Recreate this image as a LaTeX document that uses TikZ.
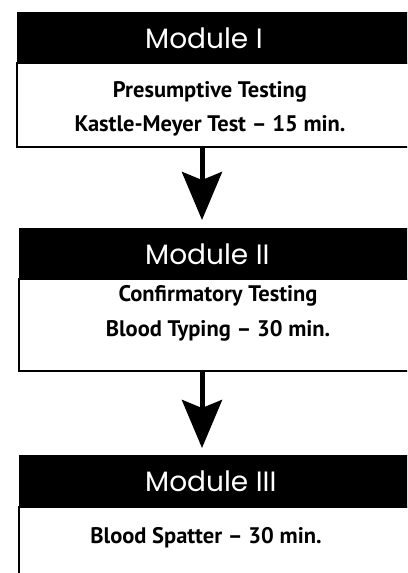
\documentclass[tikz,border=0pt]{standalone}
\usepackage{fontspec}
\setmainfont{PT Sans}
\newfontfamily\handfont{Poppins}
\usetikzlibrary{arrows.meta}
\begin{document}
\begin{tikzpicture}[x=1pt,y=-1pt,
 hdr/.style={fill=black, draw=black, minimum width=420pt, minimum height=51pt, anchor=north west, inner sep=0pt, outer sep=0pt},
 bodybox/.style={draw=black, line width=2pt, fill=white, anchor=north west, minimum width=420pt, inner sep=0pt, outer sep=0pt},
 htext/.style={text=white, font=\handfont\fontsize{28}{32}\selectfont, anchor=base west, inner sep=0pt},
 btext/.style={font=\bfseries\fontsize{22.5}{26}\selectfont, anchor=base, inner sep=0pt},
 flow/.style={line width=5pt, -{Stealth[length=48pt,width=40pt,inset=8pt]}}]
\useasboundingbox (0,0) rectangle (407,573);
\clip (0,0) rectangle (407,573);
% Module I
\node[bodybox, minimum height=84pt] (b1) at (17,63) {};
\node[hdr] (h1) at (17,12) {};
\node[htext] (l1) at (145,48) {Module I};
\node[btext] (t1a) at (210,97) {Presumptive Testing};
\node[btext] (t1b) at (210,131) {Kastle-Meyer Test – 15 min.};
% Module II
\node[bodybox, minimum height=92pt] (b2) at (19,279) {};
\node[hdr] (h2) at (19,228) {};
\node[htext] (l2) at (145,264) {Module II};
\node[btext] (t2a) at (218,301) {Confirmatory Testing};
\node[btext] (t2b) at (218,336) {Blood Typing – 30 min.};
% Module III
\node[bodybox, minimum height=120pt] (b3) at (19,507) {};
\node[hdr, minimum height=52pt] (h3) at (19,455) {};
\node[htext] (l3) at (145,491) {Module III};
\node[btext] (t3a) at (206,543) {Blood Spatter – 30 min.};
% arrows
\coordinate (ax) at (202,0);
\draw[flow, shorten >=8pt] (b1.south -| ax) -- (h2.north -| ax);
\draw[flow, shorten >=7pt] (b2.south -| ax) -- (h3.north -| ax);
\end{tikzpicture}
\end{document}
